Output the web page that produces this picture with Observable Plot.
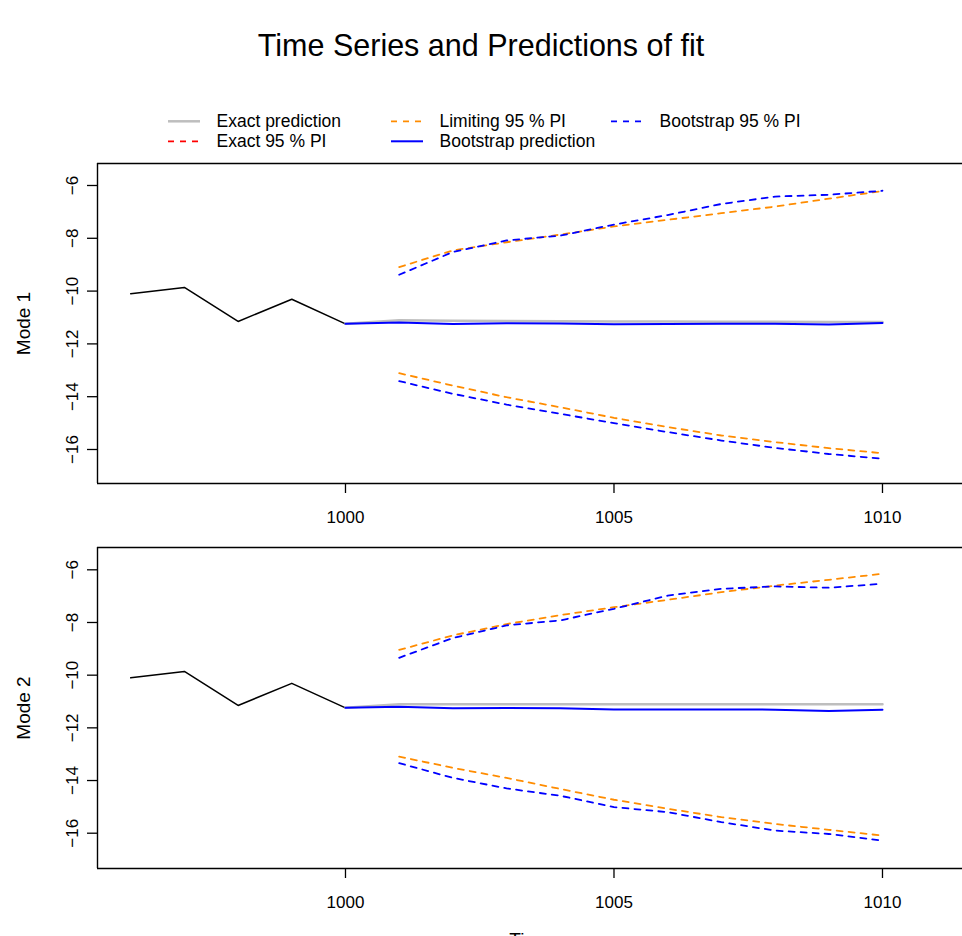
<!DOCTYPE html>
<html><head><meta charset="utf-8">
<script src="https://cdn.jsdelivr.net/npm/d3@7"></script>
<script src="https://cdn.jsdelivr.net/npm/@observablehq/plot@0.6"></script>
<style>
html,body{margin:0;padding:0;background:#fff;overflow:hidden;}
#root{position:relative;width:962px;height:936px;overflow:hidden;font-family:"Liberation Sans",Arial,Helvetica,sans-serif;background:#fff;}
#title{position:absolute;left:0;width:962px;top:27px;text-align:center;font-size:30.5px;line-height:36px;color:#000;}
.abs{position:absolute;left:0;}
</style></head><body><div id="root"><div id="title">Time Series and Predictions of fit</div></div>
<script>
// ---- data ----
const obsYears = [996, 997, 998, 999, 1000];
const observed = [-10.10, -9.86, -11.15, -10.31, -11.24];
const predYears = [1000, 1001, 1002, 1003, 1004, 1005, 1006, 1007, 1008, 1009, 1010];
const piYears = [1001, 1002, 1003, 1004, 1005, 1006, 1007, 1008, 1009, 1010];

// Mode 1
const m1Exact = [-11.24, -11.10, -11.12, -11.13, -11.14, -11.15, -11.15, -11.16, -11.16, -11.17, -11.17];
const m1Boot = [-11.24, -11.19, -11.25, -11.22, -11.23, -11.26, -11.25, -11.24, -11.24, -11.27, -11.21];
const m1LimUp = [-9.09, -8.46, -8.15, -7.86, -7.55, -7.30, -7.05, -6.80, -6.50, -6.21];
const m1LimLo = [-13.11, -13.58, -14.02, -14.40, -14.80, -15.15, -15.47, -15.72, -15.95, -16.14];
const m1BootUp = [-9.38, -8.52, -8.08, -7.90, -7.48, -7.12, -6.70, -6.42, -6.35, -6.20];
const m1BootLo = [-13.41, -13.89, -14.30, -14.65, -15.00, -15.34, -15.66, -15.94, -16.17, -16.35];

// Mode 2
const m2Exact = [-11.24, -11.10, -11.10, -11.10, -11.10, -11.10, -11.10, -11.10, -11.10, -11.10, -11.10];
const m2Boot = [-11.24, -11.20, -11.26, -11.25, -11.26, -11.30, -11.30, -11.30, -11.31, -11.36, -11.31];
const m2LimUp = [-9.04, -8.49, -8.06, -7.72, -7.42, -7.14, -6.85, -6.60, -6.38, -6.15];
const m2LimLo = [-13.09, -13.52, -13.90, -14.32, -14.73, -15.07, -15.39, -15.65, -15.87, -16.09];
const m2BootUp = [-9.34, -8.59, -8.11, -7.92, -7.48, -6.98, -6.72, -6.63, -6.68, -6.53];
const m2BootLo = [-13.34, -13.90, -14.30, -14.58, -15.01, -15.20, -15.58, -15.90, -16.03, -16.28];

// ticks & labels
const xTicks = [1000, 1005, 1010];
const yTicks = [-16, -14, -12, -10, -8, -6];
const legendLabels = ["Exact prediction", "Exact 95 % PI", "Limiting 95 % PI", "Bootstrap prediction", "Bootstrap 95 % PI"];
const legendColors = ["#BEBEBE", "red", "darkorange", "blue", "blue"];
const legendDash = [null, "6,6", "6,6", null, "6,6"];
const legendWidths = [2.5, 1.8, 1.8, 2, 1.8];

// ---- layout ----
const FONT = '"Liberation Sans",Arial,Helvetica,sans-serif';
const xLim = [995.382, 1011.49];
const root = document.getElementById("root");
const fmt = d => d < 0 ? "\u2212" + Math.abs(d) : String(d);
const DASH = "6,6";
const T = {textAnchor: "middle", lineAnchor: "middle", fill: "black"};

function panel({ylim, height, mt, mb, label, exact, boot, limUp, limLo, bootUp, bootLo}) {
  const frame = {stroke: "black", strokeWidth: 1.4};
  return Plot.plot({
    width: 962, height,
    marginLeft: 97, marginRight: 0, marginTop: mt, marginBottom: mb,
    style: {fontFamily: FONT, fontSize: "17px", background: "white", color: "black"},
    x: {domain: xLim, axis: null, label: null},
    y: {domain: ylim, axis: null, label: null},
    marks: [
      Plot.line(obsYears, {x: d => d, y: (d, i) => observed[i], stroke: "black", strokeWidth: 1.5}),
      Plot.line(predYears, {x: d => d, y: (d, i) => exact[i], stroke: "#BEBEBE", strokeWidth: 2.5}),
      Plot.line(piYears, {x: d => d, y: (d, i) => limUp[i], stroke: "darkorange", strokeWidth: 1.8, strokeDasharray: DASH}),
      Plot.line(piYears, {x: d => d, y: (d, i) => limLo[i], stroke: "darkorange", strokeWidth: 1.8, strokeDasharray: DASH}),
      Plot.line(piYears, {x: d => d, y: (d, i) => bootUp[i], stroke: "blue", strokeWidth: 1.8, strokeDasharray: DASH}),
      Plot.line(piYears, {x: d => d, y: (d, i) => bootLo[i], stroke: "blue", strokeWidth: 1.8, strokeDasharray: DASH}),
      Plot.line(predYears, {x: d => d, y: (d, i) => boot[i], stroke: "blue", strokeWidth: 2}),
      Plot.ruleY([ylim[0]], frame),
      Plot.ruleY([ylim[1]], frame),
      Plot.ruleX([xLim[0]], frame),
      Plot.axisX({ticks: xTicks, tickSize: 10, tickFormat: () => "", label: null, strokeWidth: 1.3}),
      Plot.axisY({ticks: yTicks, tickSize: 10, tickFormat: () => "", label: null, strokeWidth: 1.3}),
      Plot.text(xTicks, {...T, x: d => d, frameAnchor: "bottom", dy: 34, text: d => String(d), fontSize: 17}),
      Plot.text(yTicks, {...T, y: d => d, frameAnchor: "left", dx: -25, rotate: -90, text: fmt, fontSize: 17}),
      Plot.text([label], {...T, frameAnchor: "left", dx: -74, rotate: -90, text: d => d, fontSize: 19}),
      Plot.text(["Time"], {...T, frameAnchor: "bottom", dy: 71.5, text: d => d, fontSize: 19})
    ]
  });
}

// legend
const legendSvg = d3.create("svg").attr("width", 962).attr("height", 50)
  .attr("class", "abs").style("top", "100px").style("font-family", FONT);
const colX = [168, 391, 611];
const rowY = [21.3, 41.3];
legendLabels.forEach((lab, i) => {
  const c = Math.floor(i / 2), r = i % 2;
  const g = legendSvg.append("g");
  g.append("line").attr("x1", colX[c]).attr("x2", colX[c] + 32)
    .attr("y1", rowY[r]).attr("y2", rowY[r])
    .attr("stroke", legendColors[i]).attr("stroke-width", legendWidths[i])
    .attr("stroke-dasharray", legendDash[i]);
  g.append("text").attr("x", colX[c] + 48.5).attr("y", rowY[r]).attr("dy", "0.35em")
    .attr("font-size", 17.5).attr("fill", "black").text(lab);
});
root.appendChild(legendSvg.node());

const p1 = panel({ylim: [-17.288, -5.167], height: 410, mt: 13, mb: 77, label: "Mode 1",
  exact: m1Exact, boot: m1Boot, limUp: m1LimUp, limLo: m1LimLo, bootUp: m1BootUp, bootLo: m1BootLo});
p1.classList.add("abs"); p1.style.top = "150px";
root.appendChild(p1);

const p2 = panel({ylim: [-17.34, -5.153], height: 390, mt: 1, mb: 68, label: "Mode 2",
  exact: m2Exact, boot: m2Boot, limUp: m2LimUp, limLo: m2LimLo, bootUp: m2BootUp, bootLo: m2BootLo});
p2.classList.add("abs"); p2.style.top = "546px";
root.appendChild(p2);
</script>
</body></html>
